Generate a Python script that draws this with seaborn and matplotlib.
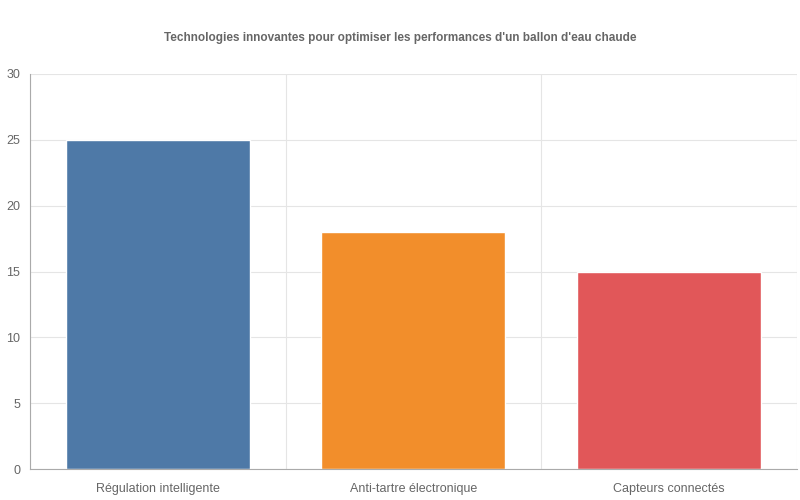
import matplotlib
matplotlib.use('Agg')
import matplotlib.pyplot as plt
import pandas as pd
import seaborn as sns

# Données du graphique
categories = ['Régulation intelligente', 'Anti-tartre électronique', 'Capteurs connectés']
valeurs = [25, 18, 15]
couleurs = ['#4e79a7', '#f28e2b', '#e15759']
titre = "Technologies innovantes pour optimiser les performances d'un ballon d'eau chaude"

df = pd.DataFrame({'Technologie': categories, 'Valeur': valeurs})

sns.set_theme(style='white')
plt.rcParams['font.family'] = ['Liberation Sans', 'DejaVu Sans']

fig = plt.figure(figsize=(8, 5), dpi=100)
ax = fig.add_axes([0.0375, 0.062, 0.9585, 0.79])

sns.barplot(x='Technologie', y='Valeur', data=df, hue='Technologie',
            palette=couleurs, legend=False, width=0.72, saturation=1, ax=ax)

ax.set_xlim(-0.5, len(categories) - 0.5)
ax.set_ylim(0, 30)
ax.set_yticks(range(0, 31, 5))
ax.set_xlabel('')
ax.set_ylabel('')

# grille verticale aux limites des catégories
ax.set_xticks([i - 0.5 for i in range(len(categories) + 1)], minor=True)
ax.grid(True, axis='y', color='#e5e5e5', linewidth=0.8)
ax.grid(True, axis='x', which='minor', color='#e5e5e5', linewidth=0.8)
ax.set_axisbelow(True)

ax.tick_params(axis='x', which='major', length=0, labelsize=9, colors='#666666', pad=10)
ax.tick_params(axis='x', which='minor', length=8, color='#dddddd', width=0.8)
ax.tick_params(axis='y', length=5, color='#999999', width=0.8, labelsize=9, labelcolor='#666666', pad=2)

for s in ['top', 'right']:
    ax.spines[s].set_visible(False)
ax.spines['left'].set_color('#aaaaaa')
ax.spines['bottom'].set_color('#aaaaaa')
ax.spines['left'].set_linewidth(0.8)
ax.spines['bottom'].set_linewidth(0.8)

fig.text(0.5, 0.924, titre, ha='center', va='center', fontsize=8.5,
         fontweight='bold', color='#666666')

fig.savefig('out.png', dpi=100)
